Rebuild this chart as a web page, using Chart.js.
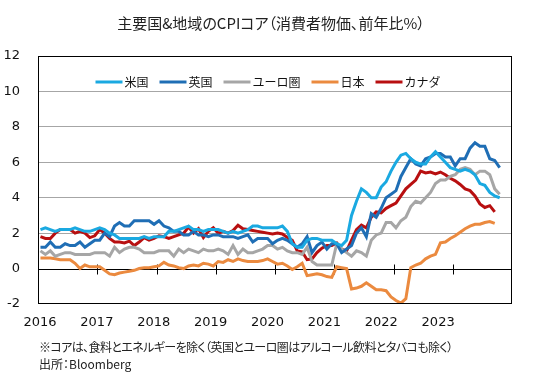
<!DOCTYPE html>
<html>
<head>
<meta charset="utf-8">
<script src="https://cdn.jsdelivr.net/npm/chart.js@4.4.0/dist/chart.umd.min.js"></script>
<style>
  body { margin: 0; background: #fff; }
  #wrap { position: relative; width: 542px; height: 380px; }
  #wrap canvas { position: absolute; left: 0; top: 0; }
  .jp { position: absolute; white-space: nowrap; color: #222; font-family: "Noto Sans CJK JP", sans-serif; font-feature-settings: "palt"; }
  #title { left: 0; width: 542px; top: 12px; text-align: center; font-size: 15px; }
  #note1 { left: 39px; top: 338px; font-size: 12px; letter-spacing: -0.6px; }
  #note2 { left: 39px; top: 355px; font-size: 12px; }
</style>
</head>
<body>
<div id="wrap">
  <canvas id="cpi" width="542" height="380"></canvas>
  <div class="jp" id="title">主要国&amp;地域のCPIコア（消費者物価、前年比%）</div>
  <div class="jp" id="note1">※コアは、食料とエネルギーを除く（英国とユーロ圏はアルコール飲料とタバコも除く）</div>
  <div class="jp" id="note2">出所：Bloomberg</div>
</div>
<script>
// monthly, Jan 2016 onward
const years = ['2016', '2017', '2018', '2019', '2020', '2021', '2022', '2023'];
const seriesNames = ['米国', '英国', 'ユーロ圏', '日本', 'カナダ'];

const usCore = [
  2.2, 2.3, 2.2, 2.1, 2.2, 2.2, 2.2, 2.3, 2.2, 2.1, 2.1, 2.2,
  2.3, 2.2, 2.0, 1.9, 1.7, 1.7, 1.7, 1.7, 1.7, 1.8, 1.7, 1.8,
  1.8, 1.8, 2.1, 2.1, 2.2, 2.3, 2.4, 2.2, 2.2, 2.1, 2.2, 2.2,
  2.2, 2.1, 2.0, 2.1, 2.0, 2.1, 2.2, 2.4, 2.4, 2.3, 2.3, 2.3,
  2.3, 2.4, 2.1, 1.4, 1.2, 1.2, 1.6, 1.7, 1.7, 1.6, 1.6, 1.6,
  1.4, 1.3, 1.6, 3.0, 3.8, 4.5, 4.3, 4.0, 4.0, 4.6, 4.9, 5.5,
  6.0, 6.4, 6.5, 6.2, 6.0, 5.9, 5.9, 6.3, 6.6, 6.3, 6.0, 5.7,
  5.6, 5.5, 5.6, 5.5, 5.3, 4.8, 4.7, 4.3, 4.1, 4.0
];
const ukCore = [
  1.2, 1.2, 1.5, 1.2, 1.2, 1.4, 1.3, 1.3, 1.5, 1.2, 1.4, 1.6,
  1.6, 2.0, 1.8, 2.4, 2.6, 2.4, 2.4, 2.7, 2.7, 2.7, 2.7, 2.5,
  2.7, 2.4, 2.3, 2.1, 2.1, 1.9, 1.9, 2.1, 1.9, 1.9, 1.8, 1.9,
  1.9, 1.8, 1.8, 1.8, 1.7, 1.8, 1.9, 1.5, 1.7, 1.7, 1.7, 1.4,
  1.6, 1.7, 1.6, 1.4, 1.2, 1.4, 1.8, 0.9, 1.3, 1.5, 1.1, 1.4,
  1.4, 0.9, 1.1, 1.3, 2.0, 2.3, 1.8, 3.1, 2.9, 3.4, 4.0, 4.2,
  4.4, 5.2, 5.7, 6.2, 5.9, 5.8, 6.2, 6.3, 6.5, 6.5, 6.3, 6.3,
  5.8, 6.2, 6.2, 6.8, 7.1, 6.9, 6.9, 6.2, 6.1, 5.7
];
const euCore = [
  1.0, 0.8, 1.0, 0.7, 0.8, 0.9, 0.9, 0.8, 0.8, 0.8, 0.8, 0.9,
  0.9, 0.9, 0.7, 1.2, 0.9, 1.1, 1.2, 1.2, 1.1, 0.9, 0.9, 0.9,
  1.0, 1.0, 1.0, 0.7, 1.1, 0.9, 1.1, 1.0, 0.9, 1.1, 1.0, 1.0,
  1.1, 1.0, 0.8, 1.3, 0.8, 1.1, 0.9, 0.9, 1.0, 1.1, 1.3, 1.3,
  1.1, 1.2, 1.0, 0.9, 0.9, 0.8, 1.2, 0.4, 0.2, 0.2, 0.2, 0.2,
  1.4, 1.1, 0.9, 0.7, 1.0, 0.9, 0.7, 1.6, 1.9, 2.0, 2.6, 2.6,
  2.3, 2.7, 2.9, 3.5, 3.8, 3.7, 4.0, 4.3, 4.8, 5.0, 5.0, 5.2,
  5.3, 5.6, 5.7, 5.6, 5.3, 5.5, 5.5, 5.3, 4.5, 4.2
];
const jpCore = [
  0.6, 0.6, 0.6, 0.55, 0.5, 0.5, 0.5, 0.3, 0.0, 0.2, 0.1, 0.1,
  0.1, -0.1, -0.3, -0.35, -0.25, -0.2, -0.15, -0.1, 0.0, 0.05, 0.05, 0.1,
  0.15, 0.35, 0.2, 0.15, 0.05, 0.0, 0.15, 0.2, 0.15, 0.3, 0.25, 0.15,
  0.4, 0.35, 0.5, 0.4, 0.55, 0.45, 0.4, 0.4, 0.4, 0.45, 0.55, 0.4,
  0.25, 0.3, 0.15, -0.05, 0.1, 0.3, -0.4, -0.35, -0.3, -0.35, -0.45, -0.5,
  0.1, 0.05, 0.0, -1.15, -1.1, -1.0, -0.8, -1.0, -1.2, -1.2, -1.25, -1.6,
  -1.8, -1.95, -1.7, 0.05, 0.2, 0.3, 0.55, 0.7, 0.8, 1.45, 1.5, 1.7,
  1.85, 2.05, 2.25, 2.4, 2.5, 2.5, 2.6, 2.65, 2.55
];
const caCore = [
  1.8, 1.7, 1.7, 2.0, 2.2, 2.2, 2.2, 2.0, 2.1, 2.0, 1.75, 1.85,
  2.2, 2.0, 1.7, 1.5, 1.5, 1.45, 1.55, 1.3, 1.5, 1.75, 1.6, 1.7,
  1.85, 1.8, 1.7, 1.8, 1.9, 2.0, 2.35, 2.0, 2.25, 1.75, 2.1, 2.3,
  2.0, 2.1, 2.0, 2.15, 2.45, 2.25, 2.2, 2.15, 2.1, 2.05, 2.0, 1.95,
  2.0, 1.95, 1.75, 1.6, 1.0, 0.95, 0.5, 0.55, 0.9, 1.15, 1.3, 1.3,
  1.45, 1.1, 1.0, 1.6, 2.2, 2.45, 2.3, 2.9, 3.2, 3.15, 3.4, 3.55,
  3.7, 4.1, 4.5, 4.75, 5.0, 5.5, 5.4, 5.45, 5.35, 5.45, 5.3, 5.1,
  4.95, 4.75, 4.5, 4.4, 4.1, 3.65, 3.45, 3.55, 3.2
];
const yTicks = [-2, 0, 2, 4, 6, 8, 10, 12];

const colors = ['#1AA9E1', '#1F6EB5', '#A6A6A6', '#EB8A3F', '#B80F10'];
const allSeries = [usCore, ukCore, euCore, jpCore, caCore];

// label positions in month units (Excel spaces them a bit tighter than the year ticks)
const labelStart = -0.1, labelStep = 11.52;

// zero line with year ticks, plot frame, legend inside the plot
const cpiDecor = {
  id: 'cpiDecor',
  beforeDatasetsDraw(chart) {
    const { ctx, chartArea: a } = chart;
    const xs = chart.scales.x, ys = chart.scales.y;
    const y0 = Math.round(ys.getPixelForValue(0)) + 0.5;
    ctx.save();
    ctx.strokeStyle = '#000000';
    ctx.lineWidth = 1;
    ctx.beginPath();
    ctx.moveTo(a.left, y0);
    ctx.lineTo(a.right, y0);
    for (let k = 1; k < years.length; k++) {
      const px = Math.round(xs.getPixelForValue(k * 12 - 0.5)) + 0.5;
      ctx.moveTo(px, y0 - 5);
      ctx.lineTo(px, y0 + 5);
    }
    ctx.stroke();
    ctx.restore();
  },
  afterDraw(chart) {
    const { ctx, chartArea: a } = chart;
    ctx.save();
    ctx.strokeStyle = '#000000';
    ctx.lineWidth = 1;
    ctx.strokeRect(Math.round(a.left) + 0.5, Math.round(a.top) + 0.5,
      Math.round(a.right - a.left) - 1, Math.round(a.bottom - a.top) - 1);

    ctx.font = '12px "Noto Sans CJK JP"';
    ctx.textBaseline = 'middle';
    const sample = 27, gap = 2, between = 11;
    const items = chart.data.datasets.map(d => ({ d, w: ctx.measureText(d.label).width }));
    const total = items.reduce((s, it) => s + sample + gap + it.w, 0) + between * (items.length - 1);
    let x = 268 - total / 2;
    const ly = a.top + 26;
    items.forEach(it => {
      ctx.strokeStyle = it.d.borderColor;
      ctx.lineWidth = 3;
      ctx.beginPath();
      ctx.moveTo(x, ly);
      ctx.lineTo(x + sample, ly);
      ctx.stroke();
      ctx.fillStyle = '#111';
      ctx.fillText(it.d.label, x + sample + gap, ly);
      x += sample + gap + it.w + between;
    });
    ctx.restore();
  }
};

new Chart(document.getElementById('cpi'), {
  type: 'line',
  data: {
    datasets: seriesNames.map((name, i) => ({
      label: name,
      data: allSeries[i].map((v, m) => ({ x: m, y: v })),
      borderColor: colors[i],
      backgroundColor: colors[i],
      borderWidth: 3,
      pointRadius: 0,
      tension: 0,
      fill: false
    }))
  },
  options: {
    responsive: false,
    animation: false,
    layout: { padding: { left: 0, right: 30, top: 56, bottom: 0 } },
    scales: {
      x: {
        type: 'linear',
        min: -0.5,
        max: 95.5,
        afterBuildTicks: s => { s.ticks = years.map((t, k) => ({ value: labelStart + k * labelStep })); },
        afterFit: s => { s.height = 76; },
        grid: { display: false, drawTicks: false },
        border: { display: false },
        ticks: {
          autoSkip: false,
          maxRotation: 0,
          padding: 11,
          color: '#111',
          font: { family: 'DejaVu Sans', size: 13 },
          callback: (v, i) => years[i]
        }
      },
      y: {
        min: -2,
        max: 12,
        afterBuildTicks: s => { s.ticks = yTicks.map(v => ({ value: v })); },
        afterFit: s => { s.width = 38; },
        grid: {
          drawTicks: false,
          color: c => (c.tick.value > 0 && c.tick.value < 12) ? '#A6A6A6' : 'rgba(0,0,0,0)'
        },
        border: { display: false },
        ticks: {
          padding: 18,
          color: '#111',
          font: { family: 'DejaVu Sans', size: 13 }
        }
      }
    },
    plugins: {
      title: { display: false },
      tooltip: { enabled: false },
      legend: { display: false }
    }
  },
  plugins: [cpiDecor]
});
</script>
</body>
</html>
